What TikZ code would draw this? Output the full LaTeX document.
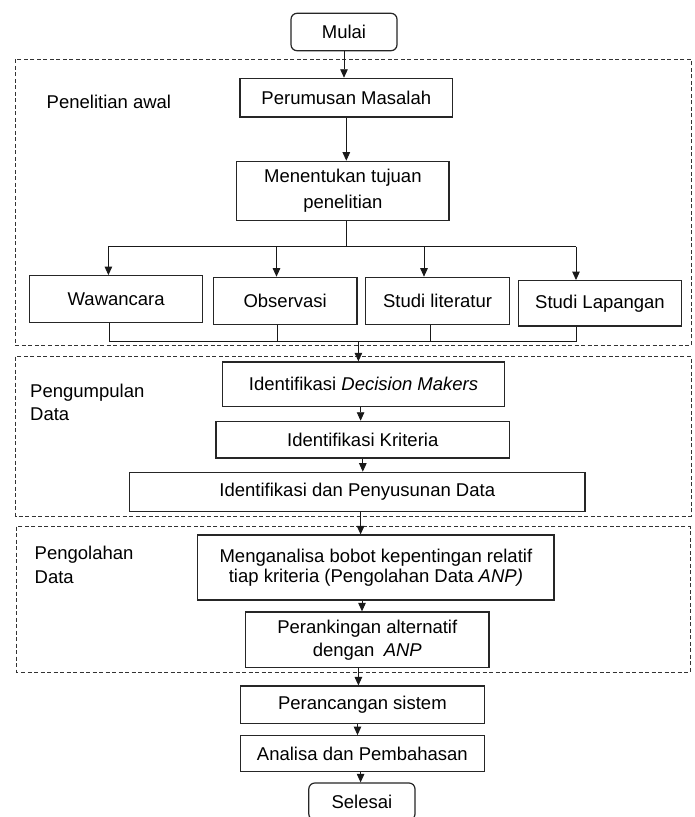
\documentclass[tikz,border=0pt]{standalone}
\usepackage{fontspec}
\setmainfont{Liberation Sans}
\usetikzlibrary{arrows.meta}
\begin{document}
\begin{tikzpicture}[x=1pt,y=-1pt,
  box/.style={draw=black!85, line width=1.2pt, fill=white, inner sep=1pt, align=center,
              font=\fontsize{18.5}{23}\selectfont, text=black},
  term/.style={box, rounded corners=6pt},
  grp/.style={draw=black!80, line width=0.9pt, dash pattern=on 4pt off 2.5pt},
  arr/.style={draw=black!90, line width=0.9pt, -{Triangle[length=8.5pt,width=7.5pt]}},
  ln/.style={draw=black!90, line width=0.9pt},
  lbl/.style={font=\fontsize{18.5}{23}\selectfont, anchor=base west, inner sep=0pt, text=black}]
\useasboundingbox (0,0) rectangle (694,817);
\clip (0,0) rectangle (694,817);
\fill[white] (0,0) rectangle (694,817);

% group frames
\draw[grp] (15.5,59.3) rectangle (691,345.3);
\draw[grp] (15.5,356.7) rectangle (691,516);
\draw[grp] (16.8,526.7) rectangle (690,672);

% group labels
\node[lbl] (pa) at (46.5,108.5) {Penelitian awal};
\node[lbl] (pd1) at (30,397) {Pengumpulan};
\node[lbl] (pd2) at (30,420) {Data};
\node[lbl] (po1) at (34.5,559) {Pengolahan};
\node[lbl] (po2) at (34.5,583) {Data};

% nodes
\node[term, minimum width=106pt, minimum height=37.4pt] (mulai) at (344,32) {Mulai};
\node[box, minimum width=212.6pt, minimum height=38.7pt] (pm) at (346.3,97.7) {Perumusan Masalah};
\node[box, minimum width=212.3pt, minimum height=59.4pt, font=\fontsize{18.5}{26}\selectfont] (mt) at (342.9,191) {Menentukan tujuan\\penelitian};
\node[box, minimum width=173pt, minimum height=47pt] (ww) at (116.2,299.2) {Wawancara};
\node[box, minimum width=143.7pt, minimum height=47pt] (ob) at (285.2,300.8) {Observasi};
\node[box, minimum width=144.2pt, minimum height=47pt] (sl) at (437.6,300.8) {Studi literatur};
\node[box, minimum width=162.8pt, minimum height=45.3pt] (sp) at (600,303.3) {Studi Lapangan};

\node[box, minimum width=281.8pt, minimum height=44.7pt] (idm) at (363.5,384.3) {Identifikasi \textit{Decision Makers}};
\node[box, minimum width=293.7pt, minimum height=36.7pt] (ik) at (362.8,439.7) {Identifikasi Kriteria};
\node[box, minimum width=455.4pt, minimum height=39.4pt] (ipd) at (357.3,492) {Identifikasi dan Penyusunan Data};

\node[box, minimum width=356.2pt, minimum height=65pt, font=\fontsize{18.5}{20.5}\selectfont] (ma) at (375.9,567.5) {Menganalisa bobot kepentingan relatif\\tiap kriteria (Pengolahan Data \textit{ANP)}};
\node[box, minimum width=243.4pt, minimum height=55.7pt, font=\fontsize{18.5}{23}\selectfont] (pr) at (367.3,639.8) {Perankingan alternatif\\dengan\enspace\textit{ANP}};
\node[box, minimum width=244.2pt, minimum height=37.3pt] (pc) at (362.4,704.7) {Perancangan sistem};
\node[box, minimum width=244.2pt, minimum height=36pt] (an) at (362.4,753.7) {Analisa dan Pembahasan};
\node[term, minimum width=106.2pt, minimum height=37pt] (sel) at (361.9,801.5) {Selesai};

% connectors
\draw[arr] (mulai.south) -- (mulai.south |- pm.north);
\draw[arr] (pm.south) -- (pm.south |- mt.north);

\coordinate (bt) at (346.5,246.7);
\coordinate (b1) at (108.4,246.7);
\coordinate (b2) at (276.5,246.7);
\coordinate (b3) at (424,246.7);
\coordinate (b4) at (576,246.7);
\draw[ln] (bt |- mt.south) -- (bt);
\draw[ln] (b1) -- (b4);
\draw[arr] (b1) -- (b1 |- ww.north);
\draw[arr] (b2) -- (b2 |- ob.north);
\draw[arr] (b3) -- (b3 |- sl.north);
\draw[arr] (b4) -- (b4 |- sp.north);

\coordinate (l1) at (109.7,341);
\coordinate (l2) at (277,341);
\coordinate (l3) at (430.5,341);
\coordinate (l4) at (576,341);
\coordinate (lm) at (358.4,341);
\draw[ln] (l1 |- ww.south) -- (l1) -- (l4) -- (l4 |- sp.south);
\draw[ln] (l2 |- ob.south) -- (l2);
\draw[ln] (l3 |- sl.south) -- (l3);
\draw[arr] (lm) -- (lm |- idm.north);

\coordinate (c1) at (360.6,0);
\coordinate (c2) at (362.8,0);
\coordinate (c3) at (360.6,0);
\coordinate (c4) at (362,0);
\coordinate (c5) at (358.4,0);
\coordinate (c6) at (357.5,0);
\coordinate (c7) at (360.6,0);
\draw[arr] (idm.south -| c1) -- (ik.north -| c1);
\draw[arr] (ik.south -| c2) -- (ipd.north -| c2);
\draw[arr] (ipd.south -| c3) -- (ma.north -| c3);
\draw[arr] (ma.south -| c4) -- (pr.north -| c4);
\draw[arr] (pr.south -| c5) -- (pc.north -| c5);
\draw[arr] (pc.south -| c6) -- (an.north -| c6);
\draw[arr] (an.south -| c7) -- (sel.north -| c7);
\end{tikzpicture}
\end{document}
